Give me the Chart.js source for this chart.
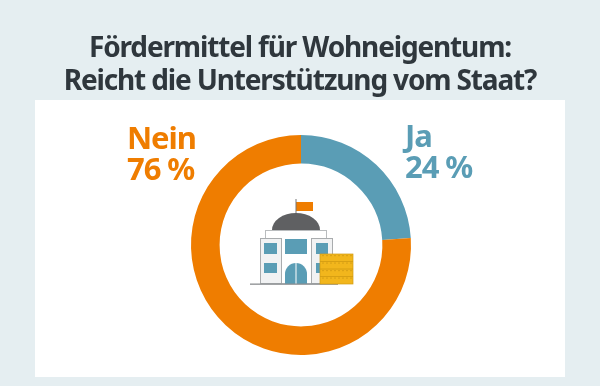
<!DOCTYPE html>
<html lang="de"><head><meta charset="utf-8">
<style>
html,body{margin:0;padding:0;background:#e5eef1;}
#wrap{position:relative;width:600px;height:386px;overflow:hidden;background:#e5eef1;font-family:"Noto Sans",sans-serif;}
#panel{position:absolute;left:35px;top:100px;width:530px;height:277px;background:#fff;}
canvas{position:absolute;left:0;top:0;}
.t{position:absolute;white-space:nowrap;font-weight:700;}
#t1,#t2{left:0;width:600px;text-align:center;color:#2f373d;font-size:28px;line-height:34px;letter-spacing:-1.15px;}
#t1{top:29px}#t2{top:61.5px}
.lab{font-size:31px;line-height:36px;letter-spacing:-1.1px;}
svg{position:absolute;left:240px;top:190px;}
</style></head><body>
<div id="wrap"><div id="panel"></div><canvas id="c" width="600" height="386"></canvas>
<div class="t" id="t1"></div><div class="t" id="t2"></div>
<div class="t lab" id="l0" style="left:405px;top:117px;color:#5a9db5"></div>
<div class="t lab" id="l0b" style="left:405px;top:148px;color:#5a9db5"></div>
<div class="t lab" id="l1" style="left:127px;top:119px;color:#ef7d00"></div>
<div class="t lab" id="l1b" style="left:127px;top:150px;color:#ef7d00"></div>
<svg width="120" height="100" viewBox="0 0 120 100">
<rect x="56" y="12" width="17" height="9" fill="#ef7d00"/><rect x="55.5" y="9" width="1" height="15" fill="#777"/>
<path d="M32 40 A24 17 0 0 1 80 40 Z" fill="#5f6062"/>
<rect x="25.5" y="40.5" width="61" height="53" fill="#fff" stroke="#b9bcbe"/>
<rect x="20.5" y="48.5" width="21" height="45" fill="#f1f2f3" stroke="#a9acae"/>
<rect x="71.5" y="48.5" width="21" height="45" fill="#f1f2f3" stroke="#a9acae"/>
<rect x="24" y="53" width="13" height="11" fill="#5a9db5"/><rect x="24" y="73" width="13" height="10" fill="#5a9db5"/>
<rect x="76" y="53" width="12" height="11" fill="#5a9db5"/><rect x="76" y="73" width="5" height="10" fill="#5a9db5"/>
<rect x="45" y="49" width="22" height="15" fill="#5a9db5"/>
<path d="M45 94 V84 A11 11 0 0 1 67 84 V94 Z" fill="#5a9db5"/><rect x="55.5" y="73" width="1" height="21" fill="#fff"/>
<rect x="10" y="93.5" width="88" height="1.3" fill="#8a8d8f"/>
<rect x="80" y="64" width="33" height="30" fill="#f2b61c" stroke="#d09a12" stroke-width=".7"/>
<path d="M80 71.5H113M80 79H113M80 86.5H113" stroke="#d09a12" stroke-width=".8"/>
<path d="M83 65V94M87 65V94M91 65V94M95 65V94M99 65V94M103 65V94M107 65V94M111 65V94" stroke="#a9780c" stroke-width=".6" stroke-dasharray="1.2 6.3"/>
</svg></div>
<script src="https://cdn.jsdelivr.net/npm/chart.js@4"></script>
<script>
const titleLines = ["Fördermittel für Wohneigentum:", "Reicht die Unterstützung vom Staat?"];
const categories = ["Ja", "Nein"];
const values = [24, 76];
const colors = ["#5a9db5", "#ef7d00"];
document.getElementById("t1").textContent = titleLines[0];
document.getElementById("t2").textContent = titleLines[1];
document.getElementById("l0").textContent = categories[0];
document.getElementById("l0b").textContent = values[0] + " %";
document.getElementById("l1").textContent = categories[1];
document.getElementById("l1b").textContent = values[1] + " %";
new Chart(document.getElementById("c"), {
  type: "doughnut",
  data: { labels: categories, datasets: [{ data: values, backgroundColor: colors, borderWidth: 0 }] },
  options: {
    responsive: false, animation: false, cutout: "74%",
    layout: { padding: { top: 135, bottom: 31, left: 2, right: 0 } },
    plugins: { legend: { display: false }, tooltip: { enabled: false }, title: { display: false } }
  }
});
</script></body></html>
